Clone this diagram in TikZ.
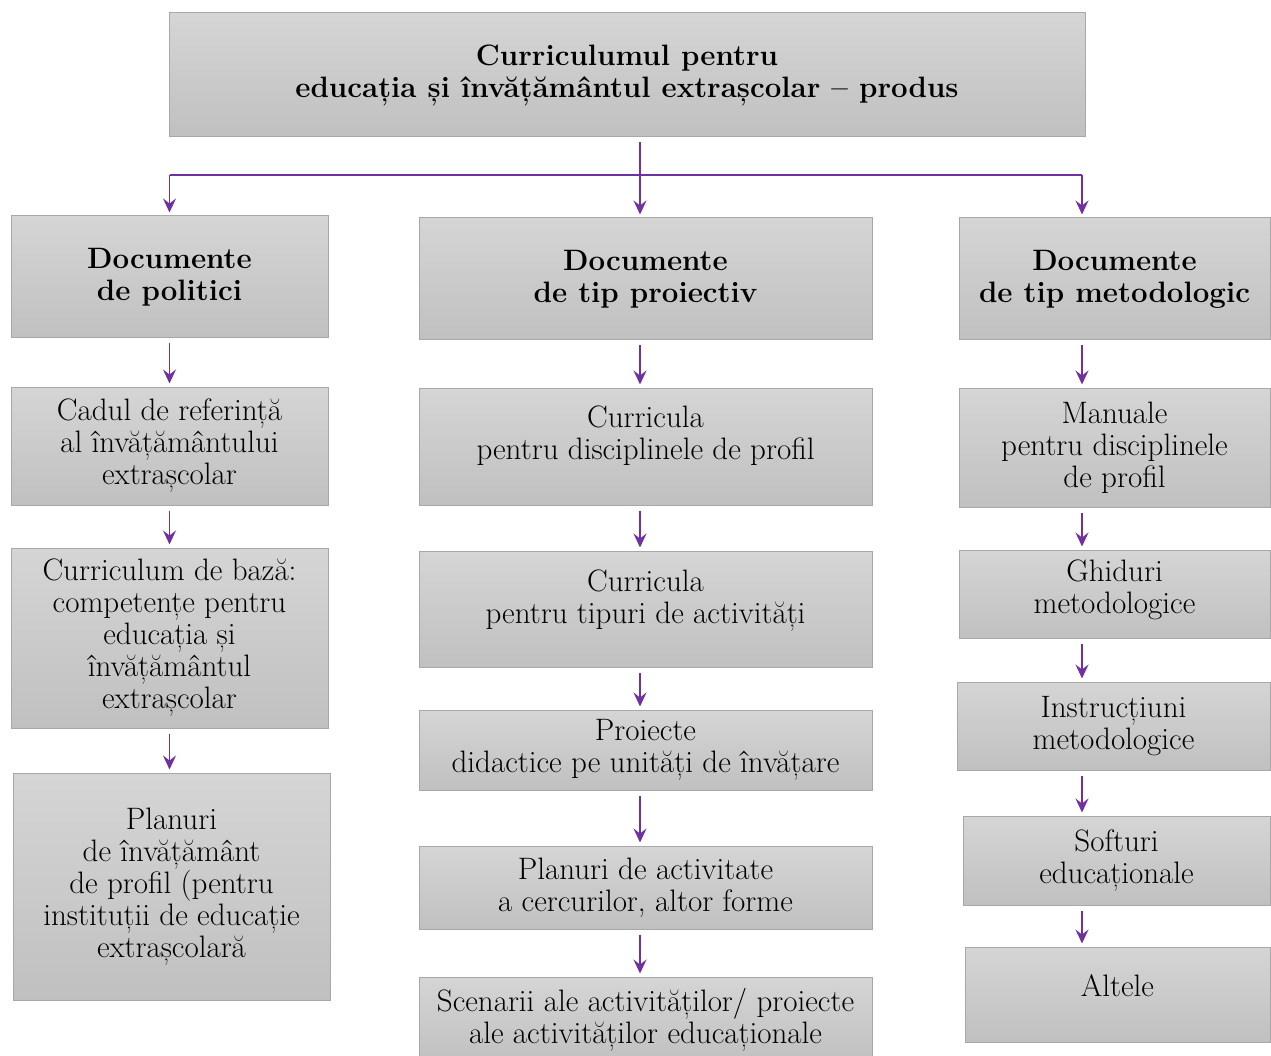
\documentclass[tikz,border=0pt]{standalone}
\usetikzlibrary{arrows.meta}
\definecolor{boxtop}{RGB}{213,213,213}
\definecolor{boxbot}{RGB}{192,192,192}
\definecolor{boxline}{RGB}{168,168,168}
\definecolor{violet}{RGB}{112,48,160}
\begin{document}
\begin{tikzpicture}[x=1pt,y=-1pt,
  doc/.style={draw=boxline,line width=1pt,top color=boxtop,bottom color=boxbot,
    align=center,inner sep=0pt,font=\fontsize{31}{32}\selectfont},
  head/.style={doc,font=\fontsize{29.5}{32}\selectfont\bfseries},
  lift/.style={text depth=#1},
  conn/.style={violet,line width=1.4pt},
  arr/.style={conn,-{Stealth[length=14pt,width=13pt,inset=5pt]},shorten >=3pt,shorten <=5pt}]

\useasboundingbox (0,0) rectangle (1271,1056);

\node[head,minimum width=916pt,minimum height=124pt] (top) at (627,75) {Curriculumul pentru\\educația și învățământul extrașcolar – produs};

\node[head,minimum width=317pt,minimum height=122pt] (L1) at (169.5,277) {Documente\\de politici};
\node[doc,minimum width=317pt,minimum height=118pt] (L2) at (169.5,446) {Cadul de referință\\al învățământului\\extrașcolar};
\node[doc,minimum width=317pt,minimum height=180pt] (L3) at (169.5,638) {Curriculum de bază:\\competențe pentru\\educația și\\învățământul\\extrașcolar};
\node[doc,minimum width=317pt,minimum height=227pt] (L4) at (171.5,886.5) {Planuri\\de învățământ\\de profil (pentru\\instituții de educație\\extrașcolară};

\node[head,minimum width=453pt,minimum height=122pt] (M1) at (645.5,279) {Documente\\de tip proiectiv};
\node[doc,lift=27pt,minimum width=453pt,minimum height=117pt] (M2) at (645.5,446.5) {Curricula\\pentru disciplinele de profil};
\node[doc,lift=25pt,minimum width=453pt,minimum height=116pt] (M3) at (645.5,609) {Curricula\\pentru tipuri de activități};
\node[doc,minimum width=453pt,minimum height=80pt] (M4) at (645.5,750) {Proiecte\\didactice pe unități de învățare};
\node[doc,minimum width=453pt,minimum height=83pt] (M5) at (645.5,887.5) {Planuri de activitate\\a cercurilor, altor forme};
\node[doc,minimum width=453pt,minimum height=86pt] (M6) at (645.5,1020) {Scenarii ale activităților/ proiecte\\ale activităților educaționale};

\node[head,minimum width=311pt,minimum height=122pt] (R1) at (1114.5,279) {Documente\\de tip metodologic};
\node[doc,minimum width=311pt,minimum height=119pt] (R2) at (1114.5,447.5) {Manuale\\pentru disciplinele\\de profil};
\node[doc,lift=15pt,minimum width=311pt,minimum height=88pt] (R3) at (1114.5,594) {Ghiduri\\metodologice};
\node[doc,minimum width=313pt,minimum height=88pt] (R4) at (1113.5,726) {Instrucțiuni\\metodologice};
\node[doc,minimum width=307pt,minimum height=89pt] (R5) at (1116.5,860.5) {Softuri\\educaționale};
\node[doc,lift=18pt,minimum width=305pt,minimum height=95pt] (R6) at (1117.5,994.5) {Altele};

% distribution from the title
\coordinate (bus) at (640,175);
\coordinate (rcol) at (1082,0);
\draw[arr] (top.south -| bus) -- (bus |- M1.north);
\draw[conn] (L1.north |- bus) -- (rcol |- bus);
\draw[arr,shorten <=0pt] (L1.north |- bus) -- (L1.north);
\draw[arr,shorten <=0pt] (rcol |- bus) -- (rcol |- R1.north);

% columns
\draw[arr] (L1) -- (L2);
\draw[arr] (L2) -- (L3);
\draw[arr] (L3.south) -- (L3.south |- L4.north);
\draw[arr] (M1.south -| bus) -- (bus |- M2.north);
\draw[arr] (M2.south -| bus) -- (bus |- M3.north);
\draw[arr] (M3.south -| bus) -- (bus |- M4.north);
\draw[arr] (M4.south -| bus) -- (bus |- M5.north);
\draw[arr] (M5.south -| bus) -- (bus |- M6.north);
\draw[arr] (R1.south -| rcol) -- (rcol |- R2.north);
\draw[arr] (R2.south -| rcol) -- (rcol |- R3.north);
\draw[arr] (R3.south -| rcol) -- (rcol |- R4.north);
\draw[arr] (R4.south -| rcol) -- (rcol |- R5.north);
\draw[arr] (R5.south -| rcol) -- (rcol |- R6.north);

\end{tikzpicture}
\end{document}
